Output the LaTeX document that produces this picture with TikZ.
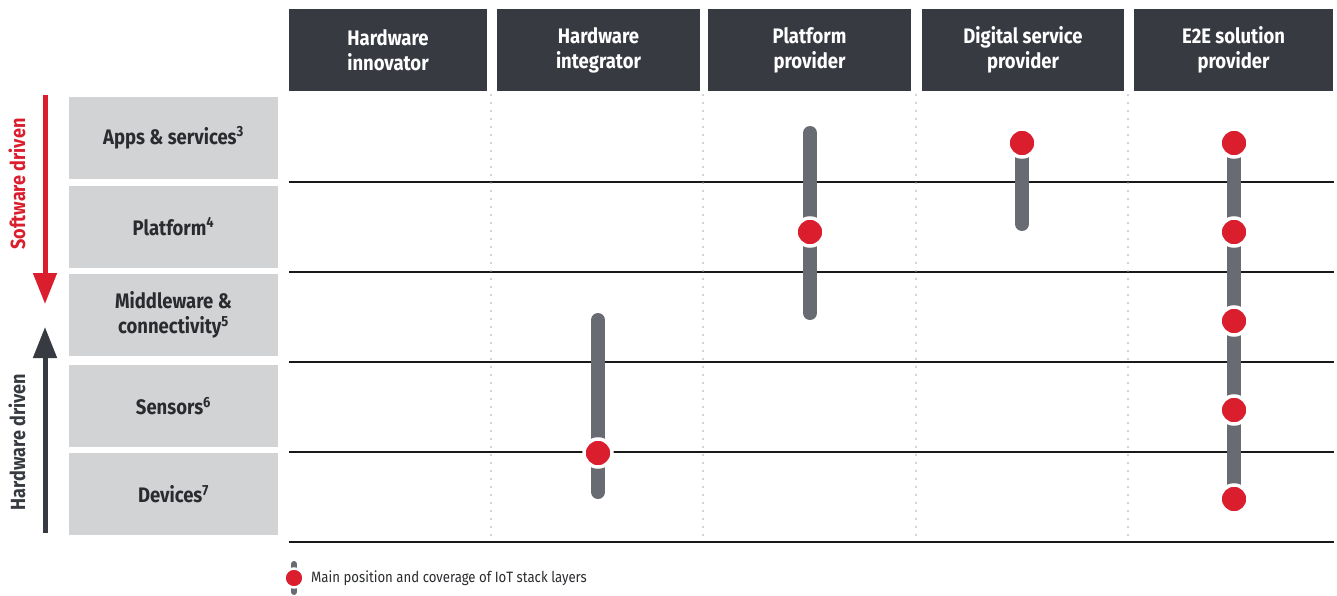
\documentclass[tikz,border=0pt]{standalone}
\usepackage{fontspec}
\setmainfont{Fira Sans}[FakeStretch=0.88]
\usetikzlibrary{arrows.meta}
\definecolor{hdr}{HTML}{373A41}
\definecolor{lbl}{HTML}{D1D3D5}
\definecolor{ired}{HTML}{DA1E2E}
\definecolor{bargray}{HTML}{686B72}
\definecolor{txt}{HTML}{2A2B2E}
\definecolor{dotgray}{HTML}{A3A6AB}
\begin{document}
\begin{tikzpicture}[x=1pt,y=-1pt,
  hdrbox/.style={fill=hdr,minimum height=82pt,inner sep=0pt,align=center,text=white,font=\fontsize{21}{25}\selectfont\bfseries},
  lblbox/.style={fill=lbl,minimum width=209pt,minimum height=82pt,inner sep=0pt,align=center,text=txt,font=\fontsize{21}{25}\selectfont\bfseries},
  rowline/.style={line width=2pt,draw=black!90},
  colsep/.style={draw=dotgray,line width=1.8pt,line cap=round,dash pattern=on 0pt off 8pt},
  bar/.style={draw=bargray,line width=14pt,line cap=round},
  dot/.style={circle,fill=ired,draw=white,line width=3.5pt,minimum size=28pt,inner sep=0pt},
  smalldot/.style={circle,fill=ired,draw=white,line width=2.5pt,minimum size=19pt,inner sep=0pt},
  sidelabel/.style={rotate=90,font=\fontsize{20.5}{24}\selectfont\bfseries}
]
\useasboundingbox (0,0) rectangle (1337,596);

% column headers
\node[hdrbox,minimum width=198pt] (h1) at (388,50) {Hardware\\innovator};
\node[hdrbox,minimum width=203pt] (h2) at (598.5,50) {Hardware\\integrator};
\node[hdrbox,minimum width=203pt] (h3) at (809.5,50) {Platform\\provider};
\node[hdrbox,minimum width=202pt] (h4) at (1023,50) {Digital service\\provider};
\node[hdrbox,minimum width=199pt] (h5) at (1233.5,50) {E2E solution\\provider};

% row labels
\node[lblbox] (r1) at (173.5,138) {Apps \& services\textsuperscript{3}};
\node[lblbox] (r2) at (173.5,226.5) {Platform\textsuperscript{4}};
\node[lblbox] (r3) at (173.5,315) {Middleware \&\\connectivity\textsuperscript{5}};
\node[lblbox] (r4) at (173.5,406) {Sensors\textsuperscript{6}};
\node[lblbox] (r5) at (173.5,494) {Devices\textsuperscript{7}};

% side arrows
\coordinate (sa) at (45,95);
\coordinate (sb) at (45,304);
\coordinate (ha) at (45,533);
\coordinate (hb) at (45,327);
\draw[draw=ired,line width=5pt,-{Triangle[length=31pt,width=23pt,fill=ired]}] (sa) -- (sb);
\draw[draw=hdr,line width=5pt,-{Triangle[length=31pt,width=23pt,fill=hdr]}] (ha) -- (hb);
\node[sidelabel,text=ired] (sw) at (17,184) {Software driven};
\node[sidelabel,text=hdr] (hw) at (17,442) {Hardware driven};

% grid lines
\foreach \yy/\nm in {182/l1,272/l2,362/l3,452/l4,542/l5}{
  \coordinate (\nm a) at (289,\yy);
  \coordinate (\nm b) at (1334,\yy);
  \draw[rowline] (\nm a) -- (\nm b);
}
\foreach \xx/\nm in {491/c1,703/c2,916/c3,1128/c4}{
  \coordinate (\nm a) at (\xx,95);
  \coordinate (\nm b) at (\xx,542);
  \draw[colsep] (\nm a) -- (\nm b);
}

% bars
\coordinate (b2t) at (598,320); \coordinate (b2b) at (598,492);
\coordinate (b3t) at (810,133); \coordinate (b3b) at (810,313);
\coordinate (b4t) at (1022,150); \coordinate (b4b) at (1022,224);
\coordinate (b5t) at (1234,150); \coordinate (b5b) at (1234,492);
\draw[bar] (b2t) -- (b2b);
\draw[bar] (b3t) -- (b3b);
\draw[bar] (b4t) -- (b4b);
\draw[bar] (b5t) -- (b5b);

% dots
\node[dot] (d2) at (598,453) {};
\node[dot] (d3) at (810,232) {};
\node[dot] (d4) at (1022,143) {};
\node[dot] (d5a) at (1234,143) {};
\node[dot] (d5b) at (1234,232) {};
\node[dot] (d5c) at (1234,321) {};
\node[dot] (d5d) at (1234,410) {};
\node[dot] (d5e) at (1234,499) {};

% legend
\coordinate (lgt) at (294,564); \coordinate (lgb) at (294,592);
\draw[draw=bargray,line width=6pt,line cap=round] (lgt) -- (lgb);
\node[smalldot] (lgd) at (294,578) {};
\node[anchor=west,inner sep=0pt,text=txt,font=\fontsize{15}{17}\selectfont] (lgtext) at (311,578.5) {Main position and coverage of IoT stack layers};
\end{tikzpicture}
\end{document}
